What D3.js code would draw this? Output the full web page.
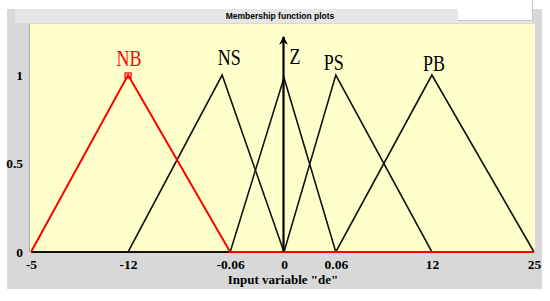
<!DOCTYPE html>
<html>
<head>
<meta charset="utf-8">
<script src="https://cdn.jsdelivr.net/npm/d3@7"></script>
<style>
  html, body { margin: 0; padding: 0; background: #ffffff; }
  svg { display: block; }
</style>
</head>
<body>
<svg id="chart" width="550" height="301"></svg>
<script>
// ---- data ----
const xTickValues = [-25, -12, -0.06, 0, 0.06, 12, 25];
const xTickLabels = ["-5", "-12", "-0.06", "0", "0.06", "12", "25"];
const yTickValues = [0, 0.5, 1];
const yTickLabels = ["0", "0.5", "1"];
const mfNames = ["NB", "NS", "Z", "PS", "PB"];
const mfParams = [          // triangle [a, b, c]
  [-25, -12, -0.06],
  [-12, -1, 0],
  [-0.06, 0, 0.06],
  [0, 0.06, 12],
  [0.06, 12, 25]
];
const mfPeaks = [1, 1, 0.985, 1, 1];
const universe = [-25, 25];
const arrowTop = 1.215;

// ---- layout ----
const W = 550, H = 301;
const plot = { left: 30, right: 535, top: 24, bottom: 252 };
const xStart = 31, xEnd = 534;
const xFrac = [0, 0.193, 0.396, 0.503, 0.606, 0.797, 1];
const labelDx = [1, 7, 11, -2, 2];
const labelBaseline = [66, 65, 64, 70, 71];

const svg = d3.select("#chart");

// panel backgrounds
svg.append("rect").attr("x", 0).attr("y", 0).attr("width", W).attr("height", H).attr("fill", "#ffffff");
svg.append("rect").attr("x", 7).attr("y", 9).attr("width", 535).attr("height", 280).attr("fill", "#d8d8d8");
svg.append("rect").attr("x", 15).attr("y", 9).attr("width", 517).attr("height", 14).attr("fill", "#e6e6e6");
svg.append("rect").attr("x", 458).attr("y", 0).attr("width", 74).attr("height", 20).attr("fill", "#ffffff");
svg.append("path").attr("d", "M458,20.5H532.5V0").attr("fill", "none").attr("stroke", "#c4c4c4").attr("stroke-width", 1);
svg.append("rect").attr("x", plot.left).attr("y", plot.top)
  .attr("width", plot.right - plot.left).attr("height", plot.bottom - plot.top).attr("fill", "#ffffcc");
svg.append("line").attr("x1", plot.left - 0.5).attr("x2", plot.left - 0.5)
  .attr("y1", plot.top).attr("y2", plot.bottom).attr("stroke", "#b0b0a0").attr("stroke-width", 1);

// title
svg.append("text").attr("x", 280).attr("y", 19).attr("text-anchor", "middle")
  .attr("font-family", "Liberation Sans, Arial, sans-serif").attr("font-weight", "bold")
  .attr("font-size", 8.5).attr("fill", "#000")
  .text("Membership function plots");

// scales
const x = d3.scaleLinear()
  .domain(xTickValues)
  .range(xFrac.map(f => xStart + f * (xEnd - xStart)));
const y = d3.scaleLinear().domain([0, 1]).range([plot.bottom, 75]);

// axes
const xAxis = d3.axisBottom(x).tickValues(xTickValues)
  .tickFormat((d, i) => xTickLabels[i]).tickSize(0).tickPadding(7);
const gx = svg.append("g").attr("transform", `translate(0,${plot.bottom})`).call(xAxis);
gx.select(".domain").remove();
gx.selectAll("text").attr("font-family", "Liberation Serif, Times New Roman, serif")
  .attr("font-weight", "bold").attr("font-size", 13.5).attr("fill", "#000");

const yAxis = d3.axisLeft(y).tickValues(yTickValues)
  .tickFormat((d, i) => yTickLabels[i]).tickSize(0).tickPadding(7);
const gy = svg.append("g").attr("transform", `translate(${plot.left},0)`).call(yAxis);
gy.select(".domain").remove();
gy.selectAll("text").attr("font-family", "Liberation Serif, Times New Roman, serif")
  .attr("font-weight", "bold").attr("font-size", 13.5).attr("fill", "#000");

// axis title
svg.append("text").attr("x", 283).attr("y", 284).attr("text-anchor", "middle")
  .attr("font-family", "Liberation Serif, Times New Roman, serif").attr("font-weight", "bold")
  .attr("font-size", 13).attr("fill", "#000")
  .text('Input variable "de"');

// membership functions
const line = d3.line().x(d => x(d[0])).y(d => y(d[1]));
const mfPoints = mfParams.map((p, i) => [
  [universe[0], 0], [p[0], 0], [p[1], mfPeaks[i]], [p[2], 0], [universe[1], 0]
]);
const order = [1, 2, 3, 4, 0];
order.forEach(i => {
  svg.append("path").attr("d", line(mfPoints[i])).attr("fill", "none")
    .attr("stroke", i === 0 ? "#ff0000" : "#111111")
    .attr("stroke-width", i === 0 ? 2 : 1.6)
    .attr("stroke-linejoin", "miter");
});

// selected marker
svg.append("rect")
  .attr("x", x(mfParams[0][1]) - 3).attr("y", y(mfPeaks[0]) - 2)
  .attr("width", 6).attr("height", 5)
  .attr("fill", "none").attr("stroke", "#ff0000").attr("stroke-width", 1.3);

// arrow on Z
svg.append("defs").append("marker").attr("id", "arrowhead")
  .attr("viewBox", "0 0 10 10").attr("refX", 9).attr("refY", 5)
  .attr("markerWidth", 4).attr("markerHeight", 4).attr("orient", "auto")
  .append("path").attr("d", "M0,0L10,5L0,10L3,5Z").attr("fill", "#000");
svg.append("line")
  .attr("x1", x(0) - 0.5).attr("x2", x(0) - 0.5)
  .attr("y1", y(0)).attr("y2", y(arrowTop))
  .attr("stroke", "#000").attr("stroke-width", 2.2)
  .attr("marker-end", "url(#arrowhead)");

// labels
mfNames.forEach((name, i) => {
  svg.append("text")
    .attr("transform", `translate(${x(mfParams[i][1]) + labelDx[i]},${labelBaseline[i]}) scale(1,1.3)`)
    .attr("text-anchor", "middle")
    .attr("font-family", "Liberation Serif, Times New Roman, serif")
    .attr("font-size", 18)
    .attr("fill", i === 0 ? "#ff0000" : "#000")
    .text(name);
});
</script>
</body>
</html>
